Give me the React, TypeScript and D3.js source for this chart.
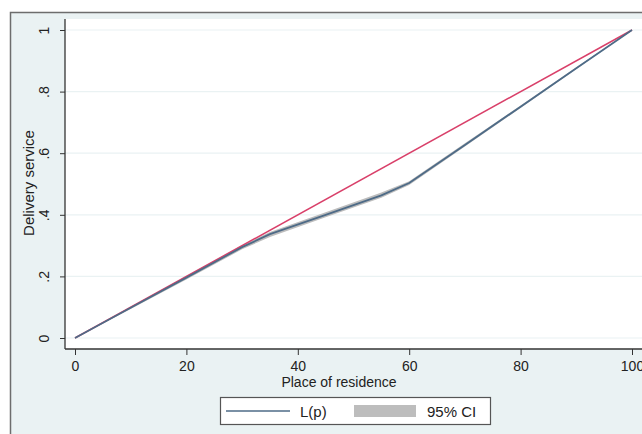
import { useEffect, useRef } from "react";
import * as d3 from "d3";

// Concentration curve points (population share %, cumulative share)
const pShare = [0, 10, 20, 30, 35, 45, 55, 60, 70, 80, 90, 100];
const lp = [0, 0.098, 0.196, 0.295, 0.337, 0.4, 0.463, 0.503, 0.627, 0.751, 0.876, 1];
const ciLow = [0, 0.094, 0.19, 0.288, 0.328, 0.392, 0.455, 0.497, 0.622, 0.747, 0.873, 1];
const ciHigh = [0, 0.101, 0.201, 0.301, 0.344, 0.408, 0.472, 0.509, 0.632, 0.755, 0.879, 1];
const equality = [0, 100];
const xTicks = [0, 20, 40, 60, 80, 100];
const yTicks = [0, 0.2, 0.4, 0.6, 0.8, 1];
const yTickLabels = ["0", ".2", ".4", ".6", ".8", "1"];

const App = () => {
  const svgRef = useRef<SVGSVGElement>(null);
  const width = 642;
  const height = 434;

  useEffect(() => {
    const svg = d3.select(svgRef.current);
    svg.selectAll("*").remove();
    const font = "Liberation Sans, Arial, sans-serif";

    const x = d3.scaleLinear().domain([0, 100]).range([75, 632]);
    const y = d3.scaleLinear().domain([0, 1]).range([338, 30]);

    // outer background
    svg.append("rect").attr("width", width).attr("height", height).attr("fill", "#ffffff");
    svg.append("rect")
      .attr("x", 10.5).attr("y", 12.5)
      .attr("width", width).attr("height", height)
      .attr("fill", "#eaf2f3")
      .attr("stroke", "#6d6d6d").attr("stroke-width", 1.5);

    // plot area
    svg.append("rect")
      .attr("x", 65).attr("y", 19)
      .attr("width", width - 65).attr("height", 349 - 19)
      .attr("fill", "#ffffff");

    // grid
    svg.append("g")
      .selectAll("line")
      .data(yTicks)
      .join("line")
      .attr("x1", 65).attr("x2", width)
      .attr("y1", d => y(d)).attr("y2", d => y(d))
      .attr("stroke", "#eaf2f3").attr("stroke-width", 1.2);

    // CI band
    const idx = d3.range(pShare.length);
    const area = d3.area<number>()
      .x(i => x(pShare[i]))
      .y0(i => y(ciLow[i]))
      .y1(i => y(ciHigh[i]));
    svg.append("path").attr("d", area(idx)).attr("fill", "#bdbdbd");

    // equality line
    svg.append("path")
      .attr("d", d3.line<number>().x(d => x(d)).y(d => y(d / 100))(equality))
      .attr("fill", "none").attr("stroke", "#d9406a").attr("stroke-width", 1.5);

    // L(p)
    svg.append("path")
      .attr("d", d3.line<number>().x(i => x(pShare[i])).y(i => y(lp[i]))(idx))
      .attr("fill", "none").attr("stroke", "#4e6b87").attr("stroke-width", 1.8);

    // axes
    const yAxis = svg.append("g").attr("transform", "translate(65,0)")
      .call(d3.axisLeft(y).tickValues(yTicks).tickSize(5).tickFormat((_, i) => yTickLabels[i]));
    yAxis.select(".domain").attr("stroke", "#333").attr("stroke-width", 1.3).attr("d", "M0,19V349");
    yAxis.selectAll(".tick line").attr("stroke", "#333");
    yAxis.selectAll(".tick text")
      .attr("font-family", font).attr("font-size", 14).attr("fill", "#222")
      .attr("transform", "translate(-16,0) rotate(-90)")
      .attr("x", 0).attr("y", 0).attr("dy", 0)
      .attr("text-anchor", "middle");

    const xAxis = svg.append("g").attr("transform", "translate(0,349)")
      .call(d3.axisBottom(x).tickValues(xTicks).tickSize(6).tickFormat(d3.format("d")));
    xAxis.select(".domain").attr("stroke", "#333").attr("stroke-width", 1.3).attr("d", "M65,0H642");
    xAxis.selectAll(".tick line").attr("stroke", "#333");
    xAxis.selectAll(".tick text")
      .attr("font-family", font).attr("font-size", 14).attr("fill", "#222").attr("dy", "0.9em");

    svg.append("text")
      .attr("x", 339).attr("y", 387)
      .attr("text-anchor", "middle")
      .attr("font-family", font).attr("font-size", 14).attr("fill", "#222")
      .text("Place of residence");

    svg.append("text")
      .attr("transform", "translate(34,183) rotate(-90)")
      .attr("text-anchor", "middle")
      .attr("font-family", font).attr("font-size", 15).attr("fill", "#222")
      .text("Delivery service");

    // legend
    const lg = svg.append("g");
    lg.append("rect")
      .attr("x", 220.5).attr("y", 397.5).attr("width", 270).attr("height", 27)
      .attr("fill", "#ffffff").attr("stroke", "#555").attr("stroke-width", 1.2);
    lg.append("line")
      .attr("x1", 226).attr("x2", 290).attr("y1", 411).attr("y2", 411)
      .attr("stroke", "#4e6b87").attr("stroke-width", 1.5);
    lg.append("text")
      .attr("x", 300).attr("y", 416.5)
      .attr("font-family", font).attr("font-size", 15).attr("fill", "#222")
      .text("L(p)");
    lg.append("rect")
      .attr("x", 354).attr("y", 405).attr("width", 62).attr("height", 12)
      .attr("fill", "#bdbdbd");
    lg.append("text")
      .attr("x", 427).attr("y", 416.5)
      .attr("font-family", font).attr("font-size", 15).attr("fill", "#222")
      .text("95% CI");
  }, []);

  return (
    <svg ref={svgRef} width={width} height={height} style={{ position: "absolute", left: 0, top: 0 }}></svg>
  );
};

export default App;
